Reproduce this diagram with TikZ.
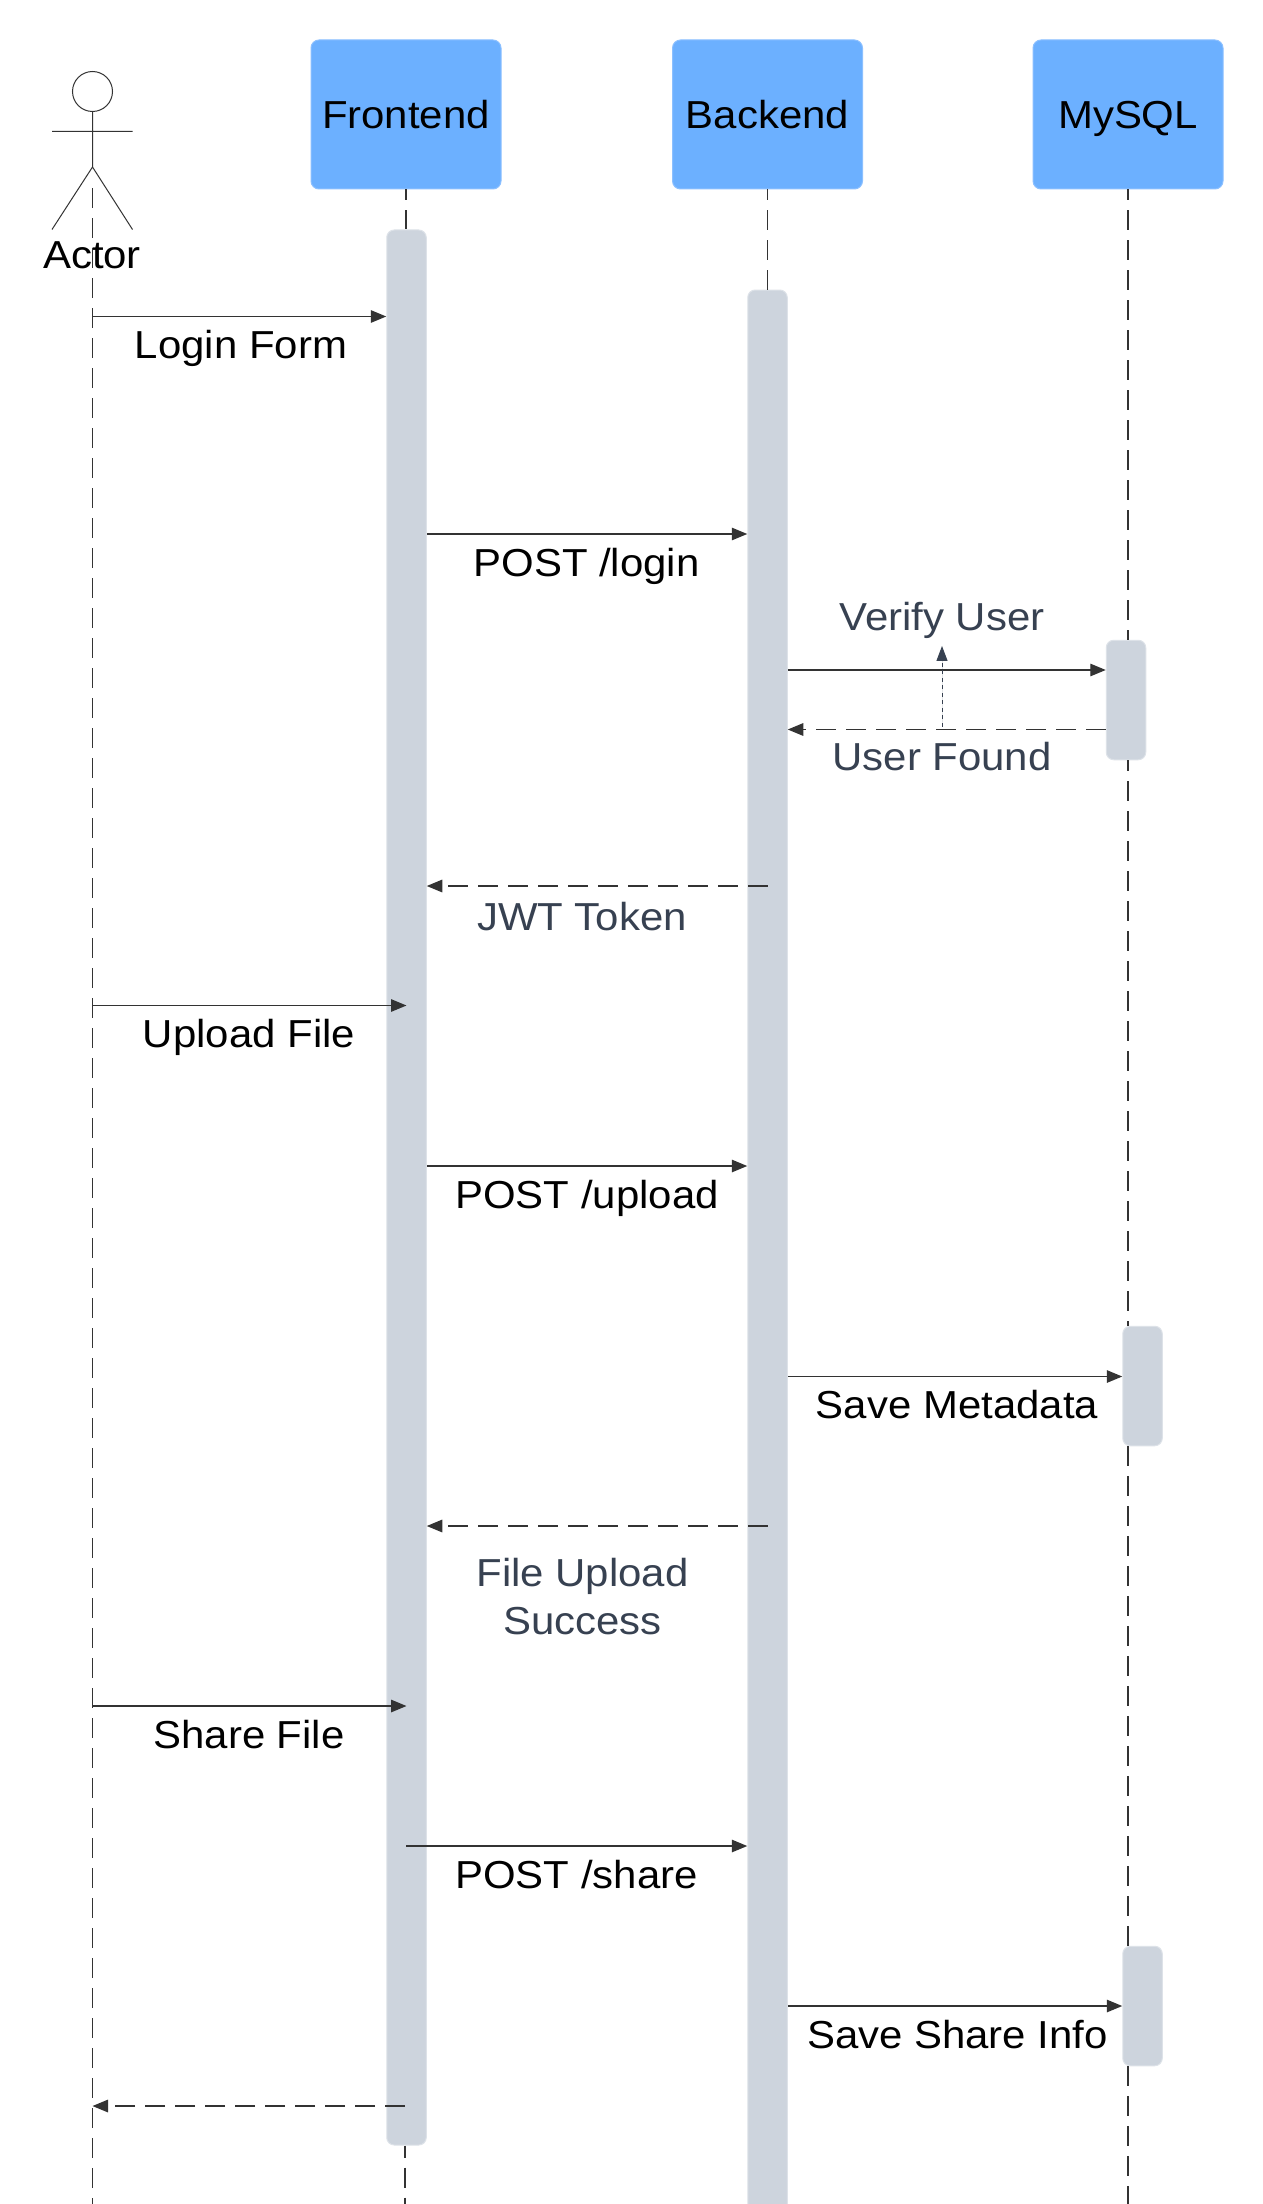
\documentclass[tikz,border=0pt]{standalone}
\usepackage{fontspec}
\setmainfont[FakeStretch=1.075]{Liberation Sans}
\usepackage{xcolor}
\usetikzlibrary{arrows.meta, positioning}
\definecolor{headblue}{HTML}{6CB0FF}
\definecolor{headedge}{HTML}{8CC0FF}
\definecolor{actfill}{HTML}{CDD4DD}
\definecolor{actedge}{HTML}{DDE2E8}
\definecolor{lineink}{HTML}{333333}
\definecolor{noteink}{HTML}{374151}
\tikzset{
	headbox/.style = {draw = headedge, line width = 0.02cm, fill = headblue, rounded corners = 0.16cm, minimum width = 3.8cm, minimum height = 2.98cm, inner sep = 0pt, text height = 0.55cm, text depth = 0pt},
	actbox/.style = {draw = actedge, line width = 0.02cm, fill = actfill, rounded corners = 0.15cm, minimum width = 0.79cm, inner sep = 0pt},
	lifeline/.style = {draw = lineink, line width = 0.026cm, dash pattern = on 0.4cm off 0.2cm},
	msg/.style = {draw = lineink, line width = 0.028cm},
	msgback/.style = {msg, dash pattern = on 0.4cm off 0.2cm},
	msgtext/.style = {anchor = base, inner sep = 0pt},
	notetext/.style = {msgtext, text = noteink}
}
\begin{document}
\begin{tikzpicture}[>={Triangle[length = 0.31cm, width = 0.25cm]}, font = \fontsize{22.2pt}{27.3pt}\selectfont]
	\useasboundingbox[fill = white] (0cm, 0cm) rectangle (25.26cm, -44.08cm);

	\draw (8.12cm, -2.29cm) node[headbox] (fe) {Frontend}
	(15.35cm, -2.29cm) node[headbox] (be) {Backend}
	(22.56cm, -2.29cm) node[headbox] (db) {MySQL};

	% stick figure
	\draw[line width = 0.02cm, draw = lineink] (1.85cm, -1.83cm) circle (0.4cm);
	\draw[line width = 0.02cm, draw = lineink] (1.85cm, -2.23cm) -- (1.85cm, -3.34cm)
	(1.04cm, -2.63cm) -- (2.65cm, -2.63cm)
	(1.04cm, -4.59cm) -- (1.85cm, -3.34cm) -- (2.65cm, -4.59cm);

	\coordinate (actortop) at (1.85cm, -3.77cm);
	\coordinate (actorend) at (1.85cm, -44.08cm);
	\coordinate (feend) at (8.1cm, -44.08cm);
	\coordinate (dbend) at (22.56cm, -44.08cm);

	\draw (8.13cm, -23.75cm) node[actbox, minimum height = 38.3cm] (feact) {}
	(15.35cm, -25.1cm) node[actbox, minimum height = 38.6cm] (beact) {}
	(22.52cm, -14cm) node[actbox, minimum height = 2.39cm] (dbact1) {}
	(22.85cm, -27.72cm) node[actbox, minimum height = 2.39cm] (dbact2) {}
	(22.85cm, -40.12cm) node[actbox, minimum height = 2.39cm] (dbact3) {};

	\draw (1.84cm, -5.36cm) node[msgtext] (actor) {Actor}
	(4.82cm, -7.16cm) node[msgtext] (login) {Login Form}
	(11.73cm, -11.52cm) node[msgtext] (postlogin) {POST /login}
	(18.84cm, -12.6cm) node[notetext] (verify) {Verify User}
	(18.84cm, -15.4cm) node[notetext] (found) {User Found}
	(11.64cm, -18.61cm) node[notetext] (jwt) {JWT Token}
	(4.98cm, -20.95cm) node[msgtext] (upload) {Upload File}
	(11.74cm, -24.16cm) node[msgtext] (postupload) {POST /upload}
	(19.14cm, -28.36cm) node[msgtext] (meta) {Save Metadata}
	(11.65cm, -31.93cm) node[notetext, anchor = center, align = center] (fileok) {File Upload\\Success}
	(4.98cm, -34.96cm) node[msgtext] (share) {Share File}
	(11.53cm, -37.76cm) node[msgtext] (postshare) {POST /share}
	(19.15cm, -40.96cm) node[msgtext] (shareinfo) {Save Share Info};

	% lifelines
	\draw[lifeline] (actortop) -- (actorend);
	\draw[lifeline, dash phase = 0.18cm] (fe.south) -- (feact.north -| fe.south);
	\draw[lifeline, dash phase = 0.16cm] (feact.south -| feend) -- (feend);
	\draw[lifeline, dash phase = 0.18cm] (be.south) -- (beact.north -| be.south);
	\draw[lifeline, dash phase = 0.18cm] (db.south) -- (dbact1.north -| db.south);
	\draw[lifeline, dash phase = 0.18cm] (dbact1.south -| db.south) -- (dbact2.north -| db.south);
	\draw[lifeline] (dbact2.south -| db.south) -- (dbact3.north -| db.south);
	\draw[lifeline] (dbact3.south -| db.south) -- (dbend);

	% message heights
	\coordinate (m1) at (0cm, -6.33cm);
	\coordinate (m2) at (0cm, -10.68cm);
	\coordinate (m3) at (0cm, -13.4cm);
	\coordinate (m4) at (0cm, -14.59cm);
	\coordinate (m5) at (0cm, -17.72cm);
	\coordinate (m6) at (0cm, -20.11cm);
	\coordinate (m7) at (0cm, -23.32cm);
	\coordinate (m8) at (0cm, -27.53cm);
	\coordinate (m9) at (0cm, -30.52cm);
	\coordinate (m10) at (0cm, -34.12cm);
	\coordinate (m11) at (0cm, -36.92cm);
	\coordinate (m12) at (0cm, -40.12cm);
	\coordinate (m13) at (0cm, -42.12cm);
	\coordinate (vfrom) at (18.84cm, -14.53cm);

	\draw[msg, ->] (actortop |- m1) -- (feact.west |- m1);
	\draw[msg, ->] (feact.east |- m2) -- (beact.west |- m2);
	\draw[msg, ->] (beact.east |- m3) -- (dbact1.west |- m3);
	\draw[msgback, ->] (dbact1.west |- m4) -- (beact.east |- m4);
	\draw[msgback, ->] (beact.center |- m5) -- (feact.east |- m5);
	\draw[msg, ->] (actortop |- m6) -- (feact.center |- m6);
	\draw[msg, ->] (feact.east |- m7) -- (beact.west |- m7);
	\draw[msg, ->] (beact.east |- m8) -- (dbact2.west |- m8);
	\draw[msgback, ->] (beact.center |- m9) -- (feact.east |- m9);
	\draw[msg, ->] (actortop |- m10) -- (feact.center |- m10);
	\draw[msg, ->] (fe.south |- m11) -- (beact.west |- m11);
	\draw[msg, ->] (beact.east |- m12) -- (dbact3.west |- m12);
	\draw[msgback, ->] (feend |- m13) -- (actortop |- m13);

	\draw[draw = noteink, fill = noteink, line width = 0.02cm, dash pattern = on 0.08cm off 0.07cm, shorten > = 0.15cm, -{Triangle[length = 0.3cm, width = 0.22cm, fill = noteink]}] (vfrom) -- (vfrom |- verify.south);
\end{tikzpicture}
\end{document}
